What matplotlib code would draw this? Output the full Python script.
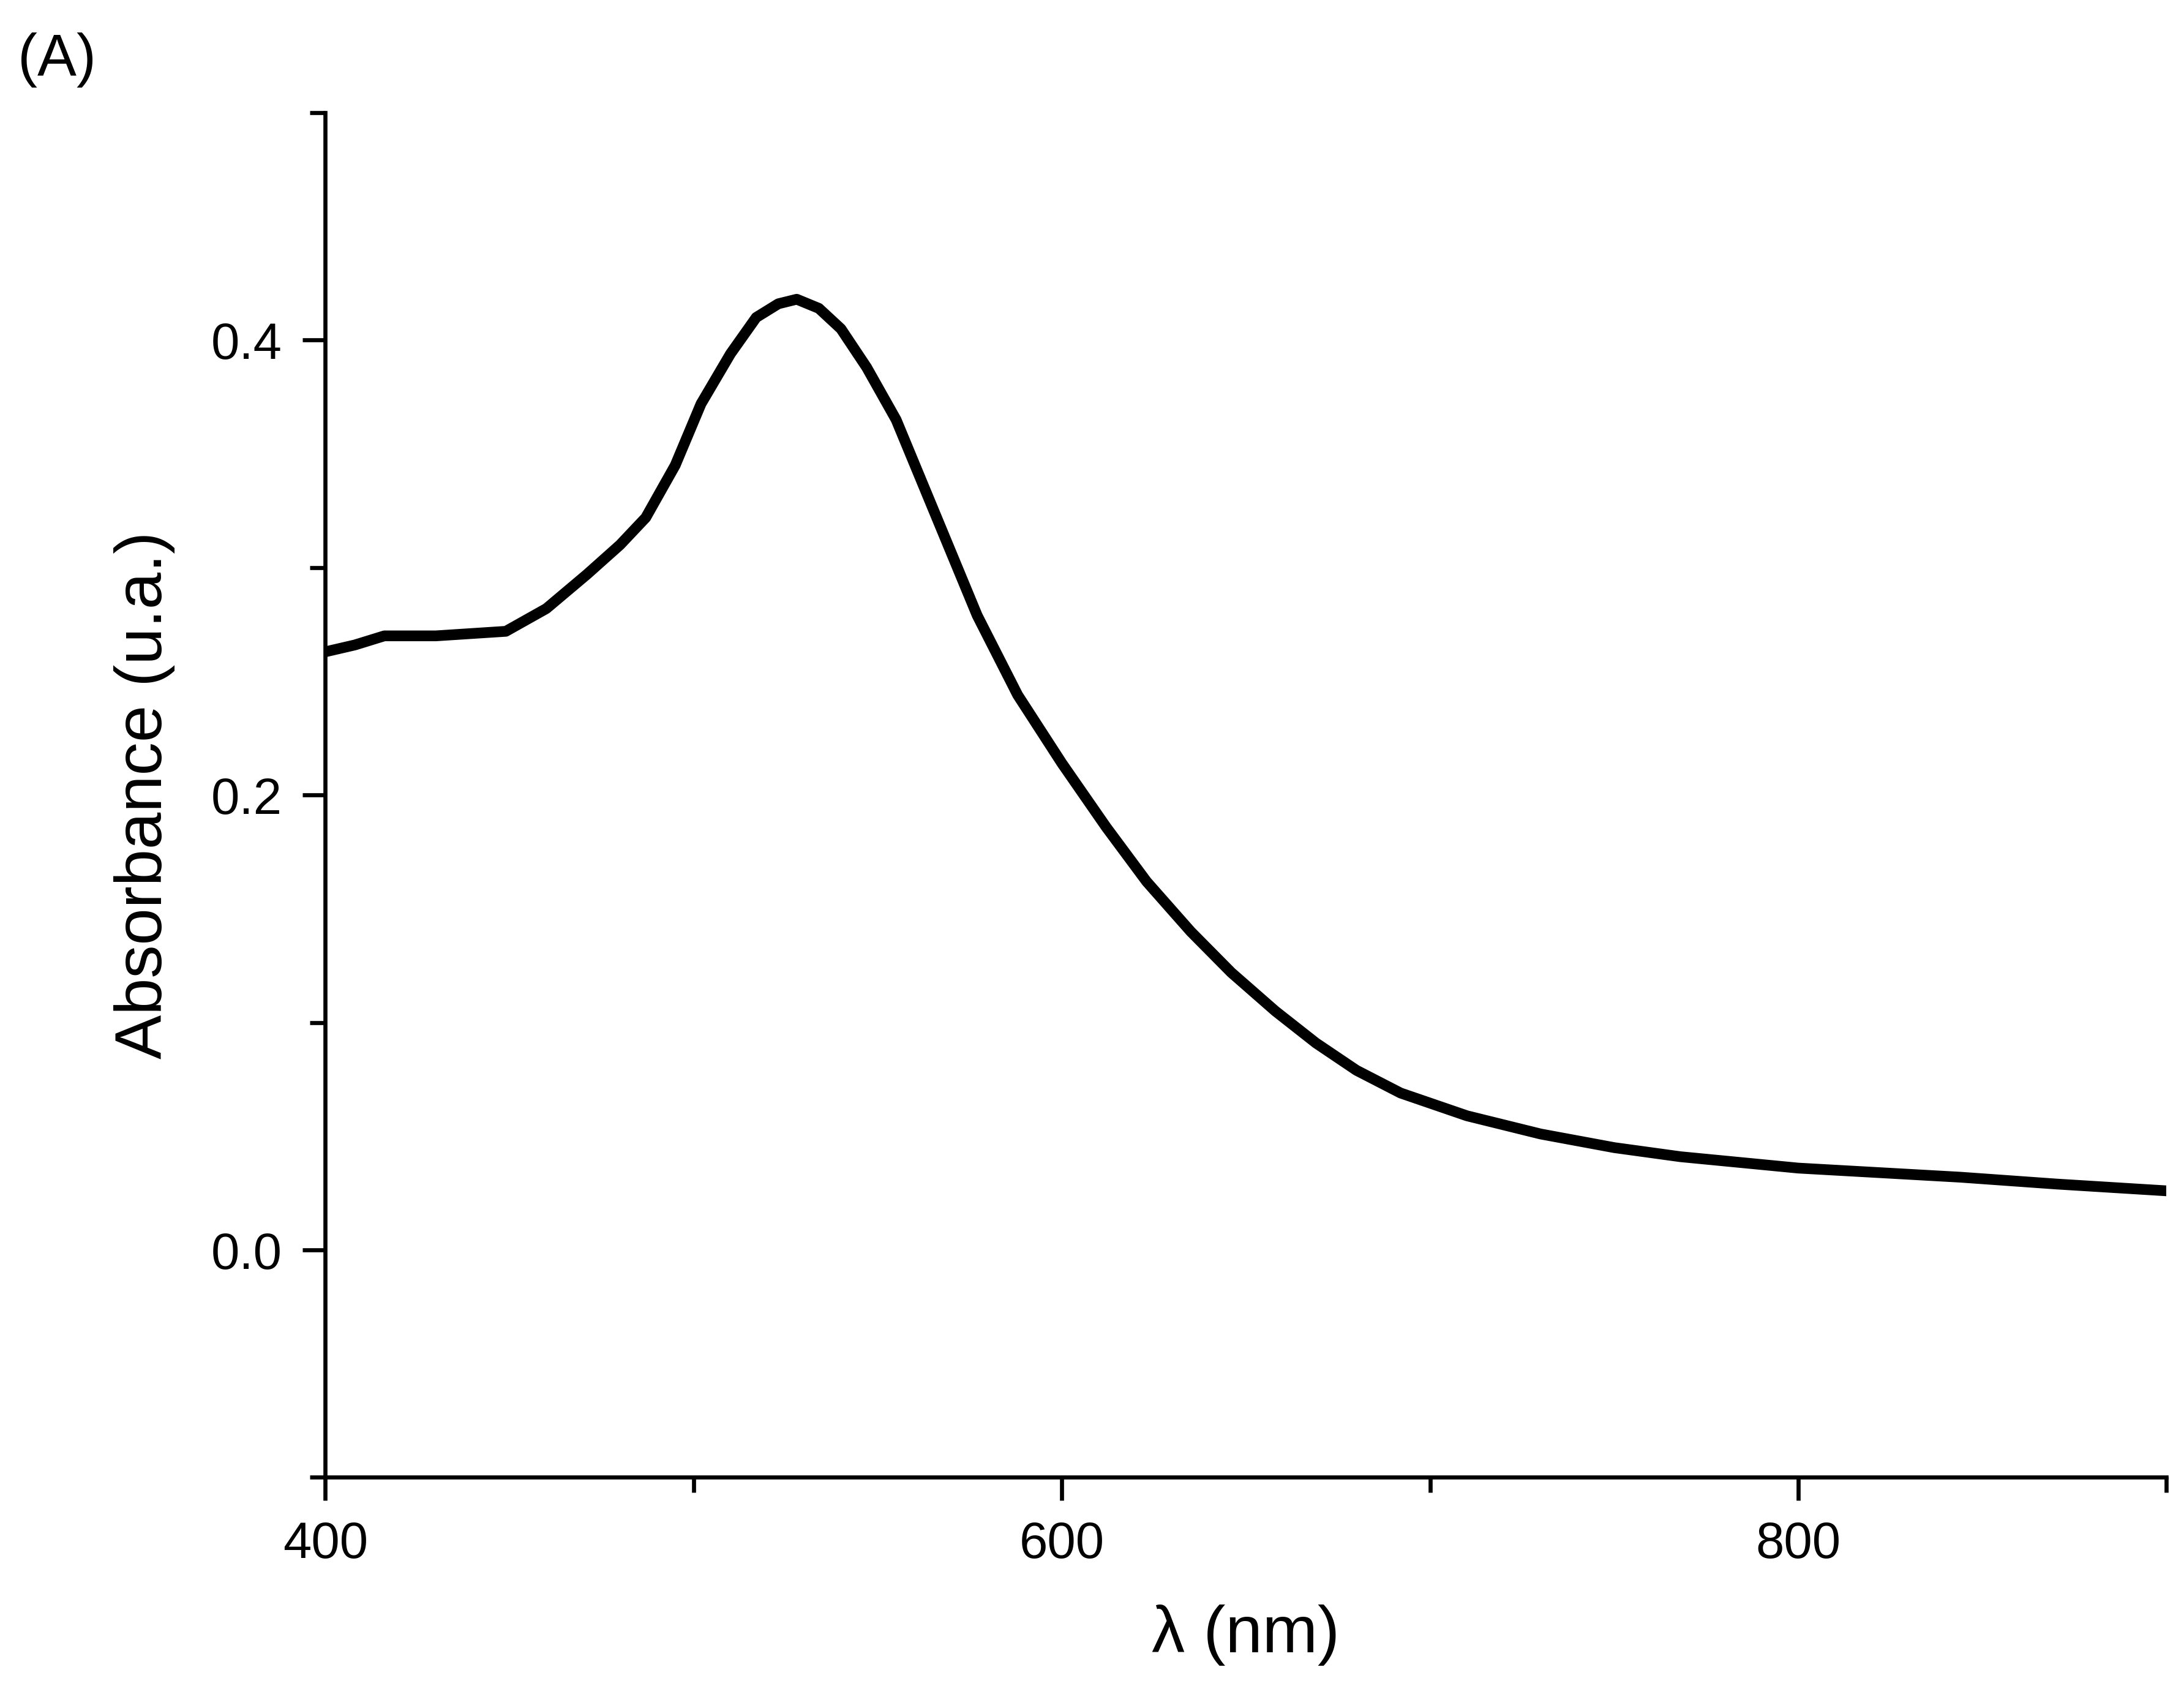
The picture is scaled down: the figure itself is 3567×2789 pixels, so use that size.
import matplotlib
matplotlib.use("Agg")
import matplotlib.pyplot as plt
from matplotlib.ticker import MultipleLocator

plt.rcParams["font.family"] = ["Liberation Sans", "DejaVu Sans"]

# Absorbance spectrum
wavelength = [400, 408, 416, 430, 449, 460, 471, 480, 487, 495, 502, 510, 517, 523, 528,
              534, 540, 547, 555, 566, 577, 588, 600, 612, 623, 635, 646, 658, 669, 680,
              692, 710, 730, 750, 768, 800, 844, 870, 900]
absorbance = [0.263, 0.266, 0.270, 0.270, 0.272, 0.282, 0.297, 0.310, 0.322, 0.345, 0.372,
              0.394, 0.410, 0.416, 0.418, 0.414, 0.405, 0.388, 0.365, 0.322, 0.279, 0.244,
              0.214, 0.186, 0.162, 0.140, 0.122, 0.105, 0.091, 0.079, 0.069, 0.059, 0.051,
              0.045, 0.041, 0.036, 0.032, 0.029, 0.026]

fig = plt.figure(figsize=(3567 / 300, 2789 / 300), dpi=300)
ax = fig.add_axes([0.149, 0.135, 0.843, 0.799])
ax.plot(wavelength, absorbance, color="black", lw=4.2,
        solid_capstyle="round", solid_joinstyle="round")

ax.set_xlim(400, 900)
ax.set_ylim(-0.1, 0.5)
ax.xaxis.set_major_locator(MultipleLocator(200))
ax.xaxis.set_minor_locator(MultipleLocator(100))
ax.yaxis.set_major_locator(MultipleLocator(0.2))
ax.yaxis.set_minor_locator(MultipleLocator(0.1))
ax.yaxis.set_major_formatter(lambda v, p: f"{v:.1f}")
for s in ("top", "right"):
    ax.spines[s].set_visible(False)
for s in ("left", "bottom"):
    ax.spines[s].set_linewidth(1.6)
ax.tick_params(which="both", direction="out", width=1.6, labelsize=20, pad=8)
ax.tick_params(which="major", length=9)
ax.tick_params(which="minor", length=6)

ax.set_xlabel("λ (nm)", fontsize=26, labelpad=14)
ax.set_ylabel("Absorbance (u.a.)", fontsize=26, labelpad=14)
fig.text(0.008, 0.965, "(A)", fontsize=23, va="center")

fig.savefig("out.png", dpi=300)
